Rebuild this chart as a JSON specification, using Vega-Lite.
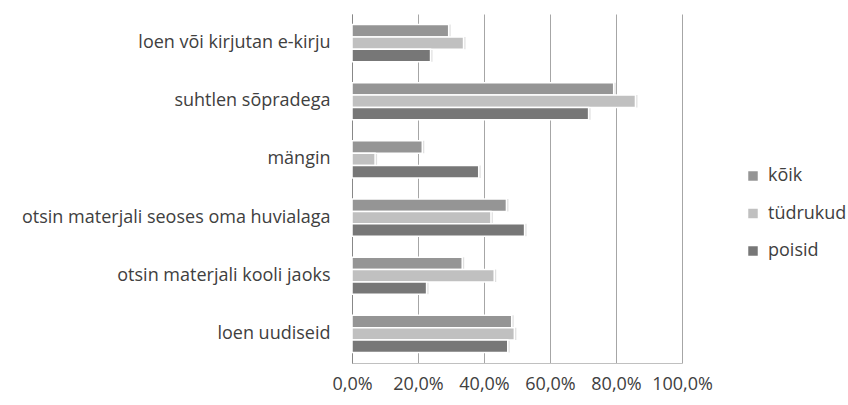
{
  "$schema": "https://vega.github.io/schema/vega-lite/v6.json",
  "width": 330,
  "height": 349,
  "autosize": "none",
  "padding": {"left": 352, "top": 14, "right": 166, "bottom": 42},
  "background": "white",
  "config": {
    "locale": {"number": {"decimal": ",", "thousands": " ", "grouping": [3], "currency": ["", " €"]}},
    "font": "Open Sans",
    "view": {"stroke": null}
  },
  "data": {
    "values": [
      {"tegevus": "loen või kirjutan e-kirju", "grupp": "kõik", "v": 0.293},
      {"tegevus": "loen või kirjutan e-kirju", "grupp": "tüdrukud", "v": 0.338},
      {"tegevus": "loen või kirjutan e-kirju", "grupp": "poisid", "v": 0.238},
      {"tegevus": "suhtlen sõpradega", "grupp": "kõik", "v": 0.793},
      {"tegevus": "suhtlen sõpradega", "grupp": "tüdrukud", "v": 0.859},
      {"tegevus": "suhtlen sõpradega", "grupp": "poisid", "v": 0.717},
      {"tegevus": "mängin", "grupp": "kõik", "v": 0.213},
      {"tegevus": "mängin", "grupp": "tüdrukud", "v": 0.07},
      {"tegevus": "mängin", "grupp": "poisid", "v": 0.384},
      {"tegevus": "otsin materjali seoses oma huvialaga", "grupp": "kõik", "v": 0.468},
      {"tegevus": "otsin materjali seoses oma huvialaga", "grupp": "tüdrukud", "v": 0.421},
      {"tegevus": "otsin materjali seoses oma huvialaga", "grupp": "poisid", "v": 0.523},
      {"tegevus": "otsin materjali kooli jaoks", "grupp": "kõik", "v": 0.334},
      {"tegevus": "otsin materjali kooli jaoks", "grupp": "tüdrukud", "v": 0.431},
      {"tegevus": "otsin materjali kooli jaoks", "grupp": "poisid", "v": 0.226},
      {"tegevus": "loen uudiseid", "grupp": "kõik", "v": 0.484},
      {"tegevus": "loen uudiseid", "grupp": "tüdrukud", "v": 0.492},
      {"tegevus": "loen uudiseid", "grupp": "poisid", "v": 0.472}
    ]
  },
  "encoding": {
    "y": {
      "field": "tegevus", "type": "nominal",
      "sort": ["loen või kirjutan e-kirju", "suhtlen sõpradega", "mängin", "otsin materjali seoses oma huvialaga", "otsin materjali kooli jaoks", "loen uudiseid"],
      "scale": {"paddingInner": 0.36, "paddingOuter": 0.18},
      "axis": {"title": null, "ticks": false, "domain": true, "domainColor": "#888888", "labelFontSize": 18, "labelColor": "#404040", "labelPadding": 22, "labelFont": "Open Sans", "labelLimit": 400}
    },
    "yOffset": {"field": "grupp", "type": "nominal", "sort": ["kõik", "tüdrukud", "poisid"], "scale": {"paddingInner": 0, "paddingOuter": 0}},
    "x": {
      "field": "v", "type": "quantitative",
      "scale": {"domain": [0, 1], "nice": false},
      "axis": {"title": null, "format": ".1%", "values": [0, 0.2, 0.4, 0.6, 0.8, 1], "grid": true, "gridColor": "#a6a6a6", "ticks": false, "domainColor": "#c0c0c0", "labelFontSize": 18, "labelColor": "#404040", "labelPadding": 12, "labelFont": "Open Sans", "labelOverlap": false, "labelFlush": false, "labelBound": false}
    }
  },
  "layer": [
    {
      "mark": {"type": "bar", "color": "#000000", "opacity": 0.12, "xOffset": 2, "yOffset": 2, "cornerRadius": 0}
    },
    {
      "mark": {"type": "bar", "stroke": "white", "strokeWidth": 1.5},
      "encoding": {
        "color": {
          "field": "grupp", "type": "nominal",
          "scale": {"domain": ["kõik", "tüdrukud", "poisid"], "range": ["#959595", "#c0c0c0", "#777777"]},
          "legend": {"title": null, "orient": "none", "legendX": 392, "legendY": 153, "symbolType": "square", "symbolSize": 90, "symbolStrokeWidth": 0, "labelFontSize": 18, "labelColor": "#404040", "labelFont": "Open Sans", "rowPadding": 19.5, "labelOffset": 6, "padding": 0}
        }
      }
    }
  ]
}
